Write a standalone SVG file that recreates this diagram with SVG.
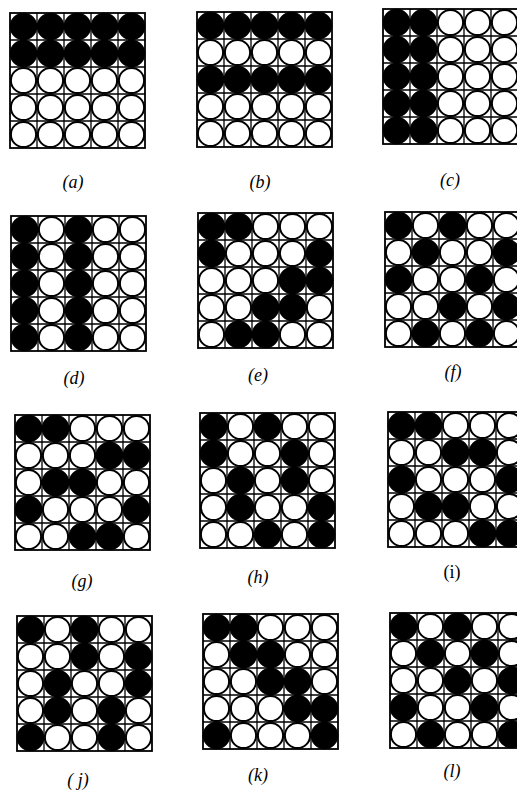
<svg xmlns="http://www.w3.org/2000/svg" xmlns:xlink="http://www.w3.org/1999/xlink" width="517" height="791" viewBox="0 0 517 791">
<style>
.gl{fill:none;stroke:#000;stroke-width:1.3}
.gb{fill:none;stroke:#000;stroke-width:1.8}
.b{fill:#000;stroke:#000;stroke-width:2}
.w{fill:#fff;stroke:#000;stroke-width:2}
.lab{font-family:"Liberation Serif","DejaVu Serif",serif;font-size:18px;font-style:italic;text-anchor:middle;fill:#000}
.up{font-style:normal}
</style>
<defs>
<g id="grid">
<rect class="gb" x="0" y="0" width="135" height="135"/>
<path class="gl" d="M27 0V135M54 0V135M81 0V135M108 0V135M0 27H135M0 54H135M0 81H135M0 108H135"/>
</g>
<circle id="B" class="b" r="12.8"/>
<circle id="W" class="w" r="12.6"/>
</defs>
<rect width="517" height="791" fill="#fff"/>

<g id="panel-a" transform="translate(10,13)">
<use xlink:href="#grid"/>
<use xlink:href="#B" x="13.5" y="13.5"/><use xlink:href="#B" x="40.5" y="13.5"/><use xlink:href="#B" x="67.5" y="13.5"/><use xlink:href="#B" x="94.5" y="13.5"/><use xlink:href="#B" x="121.5" y="13.5"/>
<use xlink:href="#B" x="13.5" y="40.5"/><use xlink:href="#B" x="40.5" y="40.5"/><use xlink:href="#B" x="67.5" y="40.5"/><use xlink:href="#B" x="94.5" y="40.5"/><use xlink:href="#B" x="121.5" y="40.5"/>
<use xlink:href="#W" x="13.5" y="67.5"/><use xlink:href="#W" x="40.5" y="67.5"/><use xlink:href="#W" x="67.5" y="67.5"/><use xlink:href="#W" x="94.5" y="67.5"/><use xlink:href="#W" x="121.5" y="67.5"/>
<use xlink:href="#W" x="13.5" y="94.5"/><use xlink:href="#W" x="40.5" y="94.5"/><use xlink:href="#W" x="67.5" y="94.5"/><use xlink:href="#W" x="94.5" y="94.5"/><use xlink:href="#W" x="121.5" y="94.5"/>
<use xlink:href="#W" x="13.5" y="121.5"/><use xlink:href="#W" x="40.5" y="121.5"/><use xlink:href="#W" x="67.5" y="121.5"/><use xlink:href="#W" x="94.5" y="121.5"/><use xlink:href="#W" x="121.5" y="121.5"/>
<text class="lab" x="63" y="175">(a)</text>
</g>

<g id="panel-b" transform="translate(197,12)">
<use xlink:href="#grid"/>
<use xlink:href="#B" x="13.5" y="13.5"/><use xlink:href="#B" x="40.5" y="13.5"/><use xlink:href="#B" x="67.5" y="13.5"/><use xlink:href="#B" x="94.5" y="13.5"/><use xlink:href="#B" x="121.5" y="13.5"/>
<use xlink:href="#W" x="13.5" y="40.5"/><use xlink:href="#W" x="40.5" y="40.5"/><use xlink:href="#W" x="67.5" y="40.5"/><use xlink:href="#W" x="94.5" y="40.5"/><use xlink:href="#W" x="121.5" y="40.5"/>
<use xlink:href="#B" x="13.5" y="67.5"/><use xlink:href="#B" x="40.5" y="67.5"/><use xlink:href="#B" x="67.5" y="67.5"/><use xlink:href="#B" x="94.5" y="67.5"/><use xlink:href="#B" x="121.5" y="67.5"/>
<use xlink:href="#W" x="13.5" y="94.5"/><use xlink:href="#W" x="40.5" y="94.5"/><use xlink:href="#W" x="67.5" y="94.5"/><use xlink:href="#W" x="94.5" y="94.5"/><use xlink:href="#W" x="121.5" y="94.5"/>
<use xlink:href="#W" x="13.5" y="121.5"/><use xlink:href="#W" x="40.5" y="121.5"/><use xlink:href="#W" x="67.5" y="121.5"/><use xlink:href="#W" x="94.5" y="121.5"/><use xlink:href="#W" x="121.5" y="121.5"/>
<text class="lab" x="63" y="176">(b)</text>
</g>

<g id="panel-c" transform="translate(383,9)">
<use xlink:href="#grid"/>
<use xlink:href="#B" x="13.5" y="13.5"/><use xlink:href="#B" x="40.5" y="13.5"/><use xlink:href="#W" x="67.5" y="13.5"/><use xlink:href="#W" x="94.5" y="13.5"/><use xlink:href="#W" x="121.5" y="13.5"/>
<use xlink:href="#B" x="13.5" y="40.5"/><use xlink:href="#B" x="40.5" y="40.5"/><use xlink:href="#W" x="67.5" y="40.5"/><use xlink:href="#W" x="94.5" y="40.5"/><use xlink:href="#W" x="121.5" y="40.5"/>
<use xlink:href="#B" x="13.5" y="67.5"/><use xlink:href="#B" x="40.5" y="67.5"/><use xlink:href="#W" x="67.5" y="67.5"/><use xlink:href="#W" x="94.5" y="67.5"/><use xlink:href="#W" x="121.5" y="67.5"/>
<use xlink:href="#B" x="13.5" y="94.5"/><use xlink:href="#B" x="40.5" y="94.5"/><use xlink:href="#W" x="67.5" y="94.5"/><use xlink:href="#W" x="94.5" y="94.5"/><use xlink:href="#W" x="121.5" y="94.5"/>
<use xlink:href="#B" x="13.5" y="121.5"/><use xlink:href="#B" x="40.5" y="121.5"/><use xlink:href="#W" x="67.5" y="121.5"/><use xlink:href="#W" x="94.5" y="121.5"/><use xlink:href="#W" x="121.5" y="121.5"/>
<text class="lab" x="67" y="177">(c)</text>
</g>

<g id="panel-d" transform="translate(11,216)">
<use xlink:href="#grid"/>
<use xlink:href="#B" x="13.5" y="13.5"/><use xlink:href="#W" x="40.5" y="13.5"/><use xlink:href="#B" x="67.5" y="13.5"/><use xlink:href="#W" x="94.5" y="13.5"/><use xlink:href="#W" x="121.5" y="13.5"/>
<use xlink:href="#B" x="13.5" y="40.5"/><use xlink:href="#W" x="40.5" y="40.5"/><use xlink:href="#B" x="67.5" y="40.5"/><use xlink:href="#W" x="94.5" y="40.5"/><use xlink:href="#W" x="121.5" y="40.5"/>
<use xlink:href="#B" x="13.5" y="67.5"/><use xlink:href="#W" x="40.5" y="67.5"/><use xlink:href="#B" x="67.5" y="67.5"/><use xlink:href="#W" x="94.5" y="67.5"/><use xlink:href="#W" x="121.5" y="67.5"/>
<use xlink:href="#B" x="13.5" y="94.5"/><use xlink:href="#W" x="40.5" y="94.5"/><use xlink:href="#B" x="67.5" y="94.5"/><use xlink:href="#W" x="94.5" y="94.5"/><use xlink:href="#W" x="121.5" y="94.5"/>
<use xlink:href="#B" x="13.5" y="121.5"/><use xlink:href="#W" x="40.5" y="121.5"/><use xlink:href="#B" x="67.5" y="121.5"/><use xlink:href="#W" x="94.5" y="121.5"/><use xlink:href="#W" x="121.5" y="121.5"/>
<text class="lab" x="63" y="168">(d)</text>
</g>

<g id="panel-e" transform="translate(198,213)">
<use xlink:href="#grid"/>
<use xlink:href="#B" x="13.5" y="13.5"/><use xlink:href="#B" x="40.5" y="13.5"/><use xlink:href="#W" x="67.5" y="13.5"/><use xlink:href="#W" x="94.5" y="13.5"/><use xlink:href="#W" x="121.5" y="13.5"/>
<use xlink:href="#B" x="13.5" y="40.5"/><use xlink:href="#W" x="40.5" y="40.5"/><use xlink:href="#W" x="67.5" y="40.5"/><use xlink:href="#W" x="94.5" y="40.5"/><use xlink:href="#B" x="121.5" y="40.5"/>
<use xlink:href="#W" x="13.5" y="67.5"/><use xlink:href="#W" x="40.5" y="67.5"/><use xlink:href="#W" x="67.5" y="67.5"/><use xlink:href="#B" x="94.5" y="67.5"/><use xlink:href="#B" x="121.5" y="67.5"/>
<use xlink:href="#W" x="13.5" y="94.5"/><use xlink:href="#W" x="40.5" y="94.5"/><use xlink:href="#B" x="67.5" y="94.5"/><use xlink:href="#B" x="94.5" y="94.5"/><use xlink:href="#W" x="121.5" y="94.5"/>
<use xlink:href="#W" x="13.5" y="121.5"/><use xlink:href="#B" x="40.5" y="121.5"/><use xlink:href="#B" x="67.5" y="121.5"/><use xlink:href="#W" x="94.5" y="121.5"/><use xlink:href="#W" x="121.5" y="121.5"/>
<text class="lab" x="60" y="168">(e)</text>
</g>

<g id="panel-f" transform="translate(385,212)">
<use xlink:href="#grid"/>
<use xlink:href="#B" x="13.5" y="13.5"/><use xlink:href="#W" x="40.5" y="13.5"/><use xlink:href="#B" x="67.5" y="13.5"/><use xlink:href="#W" x="94.5" y="13.5"/><use xlink:href="#W" x="121.5" y="13.5"/>
<use xlink:href="#W" x="13.5" y="40.5"/><use xlink:href="#B" x="40.5" y="40.5"/><use xlink:href="#W" x="67.5" y="40.5"/><use xlink:href="#W" x="94.5" y="40.5"/><use xlink:href="#B" x="121.5" y="40.5"/>
<use xlink:href="#B" x="13.5" y="67.5"/><use xlink:href="#W" x="40.5" y="67.5"/><use xlink:href="#W" x="67.5" y="67.5"/><use xlink:href="#B" x="94.5" y="67.5"/><use xlink:href="#W" x="121.5" y="67.5"/>
<use xlink:href="#W" x="13.5" y="94.5"/><use xlink:href="#W" x="40.5" y="94.5"/><use xlink:href="#B" x="67.5" y="94.5"/><use xlink:href="#W" x="94.5" y="94.5"/><use xlink:href="#B" x="121.5" y="94.5"/>
<use xlink:href="#W" x="13.5" y="121.5"/><use xlink:href="#B" x="40.5" y="121.5"/><use xlink:href="#W" x="67.5" y="121.5"/><use xlink:href="#B" x="94.5" y="121.5"/><use xlink:href="#W" x="121.5" y="121.5"/>
<text class="lab" x="68" y="166">(f)</text>
</g>

<g id="panel-g" transform="translate(15,415)">
<use xlink:href="#grid"/>
<use xlink:href="#B" x="13.5" y="13.5"/><use xlink:href="#B" x="40.5" y="13.5"/><use xlink:href="#W" x="67.5" y="13.5"/><use xlink:href="#W" x="94.5" y="13.5"/><use xlink:href="#W" x="121.5" y="13.5"/>
<use xlink:href="#W" x="13.5" y="40.5"/><use xlink:href="#W" x="40.5" y="40.5"/><use xlink:href="#W" x="67.5" y="40.5"/><use xlink:href="#B" x="94.5" y="40.5"/><use xlink:href="#B" x="121.5" y="40.5"/>
<use xlink:href="#W" x="13.5" y="67.5"/><use xlink:href="#B" x="40.5" y="67.5"/><use xlink:href="#B" x="67.5" y="67.5"/><use xlink:href="#W" x="94.5" y="67.5"/><use xlink:href="#W" x="121.5" y="67.5"/>
<use xlink:href="#B" x="13.5" y="94.5"/><use xlink:href="#W" x="40.5" y="94.5"/><use xlink:href="#W" x="67.5" y="94.5"/><use xlink:href="#W" x="94.5" y="94.5"/><use xlink:href="#B" x="121.5" y="94.5"/>
<use xlink:href="#W" x="13.5" y="121.5"/><use xlink:href="#W" x="40.5" y="121.5"/><use xlink:href="#B" x="67.5" y="121.5"/><use xlink:href="#B" x="94.5" y="121.5"/><use xlink:href="#W" x="121.5" y="121.5"/>
<text class="lab" x="67" y="172">(g)</text>
</g>

<g id="panel-h" transform="translate(200,413)">
<use xlink:href="#grid"/>
<use xlink:href="#B" x="13.5" y="13.5"/><use xlink:href="#W" x="40.5" y="13.5"/><use xlink:href="#B" x="67.5" y="13.5"/><use xlink:href="#W" x="94.5" y="13.5"/><use xlink:href="#W" x="121.5" y="13.5"/>
<use xlink:href="#B" x="13.5" y="40.5"/><use xlink:href="#W" x="40.5" y="40.5"/><use xlink:href="#W" x="67.5" y="40.5"/><use xlink:href="#B" x="94.5" y="40.5"/><use xlink:href="#W" x="121.5" y="40.5"/>
<use xlink:href="#W" x="13.5" y="67.5"/><use xlink:href="#B" x="40.5" y="67.5"/><use xlink:href="#W" x="67.5" y="67.5"/><use xlink:href="#B" x="94.5" y="67.5"/><use xlink:href="#W" x="121.5" y="67.5"/>
<use xlink:href="#W" x="13.5" y="94.5"/><use xlink:href="#B" x="40.5" y="94.5"/><use xlink:href="#W" x="67.5" y="94.5"/><use xlink:href="#W" x="94.5" y="94.5"/><use xlink:href="#B" x="121.5" y="94.5"/>
<use xlink:href="#W" x="13.5" y="121.5"/><use xlink:href="#W" x="40.5" y="121.5"/><use xlink:href="#B" x="67.5" y="121.5"/><use xlink:href="#W" x="94.5" y="121.5"/><use xlink:href="#B" x="121.5" y="121.5"/>
<text class="lab" x="58" y="170">(h)</text>
</g>

<g id="panel-i" transform="translate(388,412)">
<use xlink:href="#grid"/>
<use xlink:href="#B" x="13.5" y="13.5"/><use xlink:href="#B" x="40.5" y="13.5"/><use xlink:href="#W" x="67.5" y="13.5"/><use xlink:href="#W" x="94.5" y="13.5"/><use xlink:href="#W" x="121.5" y="13.5"/>
<use xlink:href="#W" x="13.5" y="40.5"/><use xlink:href="#W" x="40.5" y="40.5"/><use xlink:href="#B" x="67.5" y="40.5"/><use xlink:href="#B" x="94.5" y="40.5"/><use xlink:href="#W" x="121.5" y="40.5"/>
<use xlink:href="#B" x="13.5" y="67.5"/><use xlink:href="#W" x="40.5" y="67.5"/><use xlink:href="#W" x="67.5" y="67.5"/><use xlink:href="#W" x="94.5" y="67.5"/><use xlink:href="#B" x="121.5" y="67.5"/>
<use xlink:href="#W" x="13.5" y="94.5"/><use xlink:href="#B" x="40.5" y="94.5"/><use xlink:href="#B" x="67.5" y="94.5"/><use xlink:href="#W" x="94.5" y="94.5"/><use xlink:href="#W" x="121.5" y="94.5"/>
<use xlink:href="#W" x="13.5" y="121.5"/><use xlink:href="#W" x="40.5" y="121.5"/><use xlink:href="#W" x="67.5" y="121.5"/><use xlink:href="#B" x="94.5" y="121.5"/><use xlink:href="#B" x="121.5" y="121.5"/>
<text class="lab up" x="64" y="166">(i)</text>
</g>

<g id="panel-j" transform="translate(17,616)">
<use xlink:href="#grid"/>
<use xlink:href="#B" x="13.5" y="13.5"/><use xlink:href="#W" x="40.5" y="13.5"/><use xlink:href="#B" x="67.5" y="13.5"/><use xlink:href="#W" x="94.5" y="13.5"/><use xlink:href="#W" x="121.5" y="13.5"/>
<use xlink:href="#W" x="13.5" y="40.5"/><use xlink:href="#W" x="40.5" y="40.5"/><use xlink:href="#B" x="67.5" y="40.5"/><use xlink:href="#W" x="94.5" y="40.5"/><use xlink:href="#B" x="121.5" y="40.5"/>
<use xlink:href="#W" x="13.5" y="67.5"/><use xlink:href="#B" x="40.5" y="67.5"/><use xlink:href="#W" x="67.5" y="67.5"/><use xlink:href="#W" x="94.5" y="67.5"/><use xlink:href="#B" x="121.5" y="67.5"/>
<use xlink:href="#W" x="13.5" y="94.5"/><use xlink:href="#B" x="40.5" y="94.5"/><use xlink:href="#W" x="67.5" y="94.5"/><use xlink:href="#B" x="94.5" y="94.5"/><use xlink:href="#W" x="121.5" y="94.5"/>
<use xlink:href="#B" x="13.5" y="121.5"/><use xlink:href="#W" x="40.5" y="121.5"/><use xlink:href="#W" x="67.5" y="121.5"/><use xlink:href="#B" x="94.5" y="121.5"/><use xlink:href="#W" x="121.5" y="121.5"/>
<text class="lab" x="61" y="170">( j)</text>
</g>

<g id="panel-k" transform="translate(203,614)">
<use xlink:href="#grid"/>
<use xlink:href="#B" x="13.5" y="13.5"/><use xlink:href="#B" x="40.5" y="13.5"/><use xlink:href="#W" x="67.5" y="13.5"/><use xlink:href="#W" x="94.5" y="13.5"/><use xlink:href="#W" x="121.5" y="13.5"/>
<use xlink:href="#W" x="13.5" y="40.5"/><use xlink:href="#B" x="40.5" y="40.5"/><use xlink:href="#B" x="67.5" y="40.5"/><use xlink:href="#W" x="94.5" y="40.5"/><use xlink:href="#W" x="121.5" y="40.5"/>
<use xlink:href="#W" x="13.5" y="67.5"/><use xlink:href="#W" x="40.5" y="67.5"/><use xlink:href="#B" x="67.5" y="67.5"/><use xlink:href="#B" x="94.5" y="67.5"/><use xlink:href="#W" x="121.5" y="67.5"/>
<use xlink:href="#W" x="13.5" y="94.5"/><use xlink:href="#W" x="40.5" y="94.5"/><use xlink:href="#W" x="67.5" y="94.5"/><use xlink:href="#B" x="94.5" y="94.5"/><use xlink:href="#B" x="121.5" y="94.5"/>
<use xlink:href="#B" x="13.5" y="121.5"/><use xlink:href="#W" x="40.5" y="121.5"/><use xlink:href="#W" x="67.5" y="121.5"/><use xlink:href="#W" x="94.5" y="121.5"/><use xlink:href="#B" x="121.5" y="121.5"/>
<text class="lab" x="55" y="167">(k)</text>
</g>

<g id="panel-l" transform="translate(390,613)">
<use xlink:href="#grid"/>
<use xlink:href="#B" x="13.5" y="13.5"/><use xlink:href="#W" x="40.5" y="13.5"/><use xlink:href="#B" x="67.5" y="13.5"/><use xlink:href="#W" x="94.5" y="13.5"/><use xlink:href="#W" x="121.5" y="13.5"/>
<use xlink:href="#W" x="13.5" y="40.5"/><use xlink:href="#B" x="40.5" y="40.5"/><use xlink:href="#W" x="67.5" y="40.5"/><use xlink:href="#B" x="94.5" y="40.5"/><use xlink:href="#W" x="121.5" y="40.5"/>
<use xlink:href="#W" x="13.5" y="67.5"/><use xlink:href="#W" x="40.5" y="67.5"/><use xlink:href="#B" x="67.5" y="67.5"/><use xlink:href="#W" x="94.5" y="67.5"/><use xlink:href="#B" x="121.5" y="67.5"/>
<use xlink:href="#B" x="13.5" y="94.5"/><use xlink:href="#W" x="40.5" y="94.5"/><use xlink:href="#W" x="67.5" y="94.5"/><use xlink:href="#B" x="94.5" y="94.5"/><use xlink:href="#W" x="121.5" y="94.5"/>
<use xlink:href="#W" x="13.5" y="121.5"/><use xlink:href="#B" x="40.5" y="121.5"/><use xlink:href="#W" x="67.5" y="121.5"/><use xlink:href="#W" x="94.5" y="121.5"/><use xlink:href="#B" x="121.5" y="121.5"/>
<text class="lab" x="62" y="164">(l)</text>
</g>
</svg>
